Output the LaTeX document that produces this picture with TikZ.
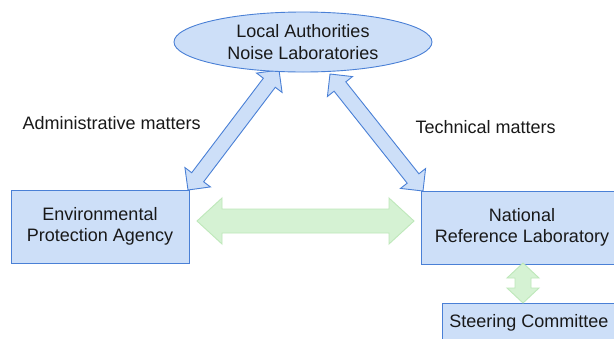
\documentclass[tikz,border=0pt]{standalone}
\usepackage{fontspec}
\setmainfont{Liberation Sans}
\usetikzlibrary{calc,shapes.geometric}
\definecolor{bfill}{RGB}{205,223,248}
\definecolor{bline}{RGB}{74,128,214}
\definecolor{gfill}{RGB}{213,242,211}
\definecolor{gline}{RGB}{190,232,186}
\newcommand\fatarrow[6]{%
 \filldraw[#1] (#2) -- ($(#2)!#4!(#3)!#5!90:(#3)$) -- ($(#2)!#4!(#3)!#6!90:(#3)$)
  -- ($(#3)!#4!(#2)!#6!-90:(#2)$) -- ($(#3)!#4!(#2)!#5!-90:(#2)$) -- (#3)
  -- ($(#3)!#4!(#2)!#5!90:(#2)$) -- ($(#3)!#4!(#2)!#6!90:(#2)$)
  -- ($(#2)!#4!(#3)!#6!-90:(#3)$) -- ($(#2)!#4!(#3)!#5!-90:(#3)$) -- cycle;}
\tikzset{
 txt/.style={font=\fontsize{18}{21.5}\selectfont, text=black!90, align=center},
 bbox/.style={txt, draw=bline, fill=bfill, line width=0.9pt, inner sep=0pt},
 bluearrow/.style={draw=bline, fill=bfill, line width=0.9pt, line join=miter},
 greenarrow/.style={draw=gline, fill=gfill, line width=0.9pt, line join=miter},
}
\begin{document}
\begin{tikzpicture}[x=1pt,y=-1pt]
\clip (0,0) rectangle (614,338);
\fill[white] (0,0) rectangle (614,338);
% nodes
\node[bbox, minimum width=178pt, minimum height=73pt] (epa) at (100,226.5) {Environmental\\Protection Agency};
\node[bbox, minimum width=202pt, minimum height=73pt] (nrl) at (522,227.5) {National\\Reference Laboratory};
\node[bbox, minimum width=174pt, minimum height=40pt] (sc) at (529,323) {};
\node[txt] (sct) at (529,323) {Steering Committee};
\node[txt, anchor=west] (adm) at (19,123) {Administrative matters};
\node[txt, anchor=west] (tec) at (412,127) {Technical matters};
% connector end points
\coordinate (la) at (279,70);
\coordinate (lb) at (188,190);
\coordinate (ra) at (330,74);
\coordinate (rb) at (423,191);
\coordinate (ha) at (197,221);
\coordinate (hb) at (414,221);
\coordinate (va) at (523,263);
\coordinate (vb) at (523,303);
\fatarrow{bluearrow}{la}{lb}{16pt}{16pt}{7.5pt}
\fatarrow{bluearrow}{ra}{rb}{16pt}{16pt}{7.5pt}
\fatarrow{greenarrow}{ha}{hb}{25pt}{23pt}{12pt}
\fatarrow{greenarrow}{va}{vb}{15pt}{16pt}{8pt}
\node[ellipse, bbox, minimum width=258pt, minimum height=60pt] (la-node) at (303,42) {Local Authorities\\Noise Laboratories};
\end{tikzpicture}
\end{document}
